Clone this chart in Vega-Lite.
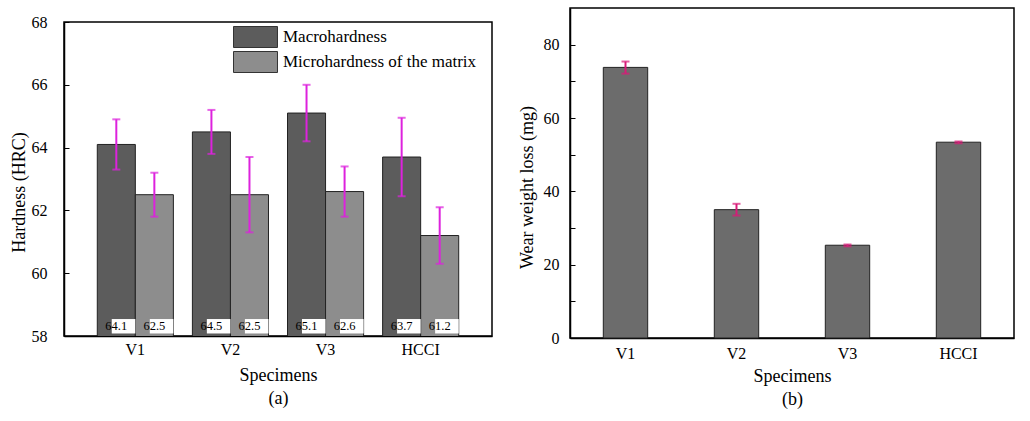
{
  "$schema": "https://vega.github.io/schema/vega-lite/v6.json",
  "padding": {"left": 9, "top": 7, "right": 4, "bottom": 0},
  "background": "white",
  "spacing": 24,
  "resolve": {"legend": {"color": "independent"}, "scale": {"color": "independent"}},
  "config": {
    "font": "Liberation Serif",
    "view": {"stroke": "black", "strokeWidth": 1.5},
    "axis": {
      "labelFont": "Liberation Serif", "titleFont": "Liberation Serif",
      "labelFontSize": 16, "titleFontSize": 18, "titleFontWeight": "normal",
      "labelColor": "black", "titleColor": "black",
      "domainColor": "black", "domainWidth": 1.5, "tickColor": "black", "grid": false
    },
    "legend": {
      "labelFont": "Liberation Serif", "labelFontSize": 17, "labelColor": "black", "labelLimit": 400
    }
  },
  "datasets": {
    "hard": [
      {"Specimen": "V1", "Type": "Macrohardness", "Hardness": 64.1, "Low": 63.3, "High": 64.9, "Label": "64.1"},
      {"Specimen": "V1", "Type": "Microhardness of the matrix", "Hardness": 62.5, "Low": 61.8, "High": 63.2, "Label": "62.5"},
      {"Specimen": "V2", "Type": "Macrohardness", "Hardness": 64.5, "Low": 63.8, "High": 65.2, "Label": "64.5"},
      {"Specimen": "V2", "Type": "Microhardness of the matrix", "Hardness": 62.5, "Low": 61.3, "High": 63.7, "Label": "62.5"},
      {"Specimen": "V3", "Type": "Macrohardness", "Hardness": 65.1, "Low": 64.2, "High": 66.0, "Label": "65.1"},
      {"Specimen": "V3", "Type": "Microhardness of the matrix", "Hardness": 62.6, "Low": 61.8, "High": 63.4, "Label": "62.6"},
      {"Specimen": "HCCI", "Type": "Macrohardness", "Hardness": 63.7, "Low": 62.45, "High": 64.95, "Label": "63.7"},
      {"Specimen": "HCCI", "Type": "Microhardness of the matrix", "Hardness": 61.2, "Low": 60.3, "High": 62.1, "Label": "61.2"}
    ],
    "wear": [
      {"Specimen": "V1", "Loss": 73.8, "Low": 72.1, "High": 75.4},
      {"Specimen": "V2", "Loss": 35.0, "Low": 33.4, "High": 36.6},
      {"Specimen": "V3", "Loss": 25.3, "Low": 25.0, "High": 25.5},
      {"Specimen": "HCCI", "Loss": 53.4, "Low": 53.1, "High": 53.6}
    ],
    "none": []
  },
  "hconcat": [
    {
      "spacing": 0,
      "vconcat": [
        {
          "width": 428,
          "height": 5,
          "view": {"stroke": null},
          "data": {"name": "none"},
          "mark": "point"
        },
        {
          "width": 428,
          "height": 314,
          "data": {"name": "hard"},
          "encoding": {
            "x": {
              "field": "Specimen", "type": "nominal", "sort": ["V1", "V2", "V3", "HCCI"],
              "scale": {"paddingInner": 0.2, "paddingOuter": 0.35},
              "axis": {"labelAngle": 0, "ticks": false, "labelPadding": 5, "title": ["Specimens", "(a)"], "titleLineHeight": 23, "titlePadding": 9}
            },
            "xOffset": {"field": "Type", "type": "nominal", "sort": ["Macrohardness", "Microhardness of the matrix"]}
          },
          "layer": [
            {
              "mark": {"type": "bar", "stroke": "#222222", "strokeWidth": 1, "clip": true},
              "encoding": {
                "y": {
                  "field": "Hardness", "type": "quantitative",
                  "scale": {"domain": [58, 68], "zero": false, "nice": false},
                  "axis": {
                    "values": [58, 59, 60, 61, 62, 63, 64, 65, 66, 67, 68],
                    "labelExpr": "datum.value % 2 == 0 ? datum.label : ''",
                    "tickSize": -5, "labelPadding": 22, "title": "Hardness (HRC)", "titlePadding": 3, "titleY": 170
                  }
                },
                "color": {
                  "field": "Type", "type": "nominal",
                  "scale": {"domain": ["Macrohardness", "Microhardness of the matrix"], "range": ["#5c5c5c", "#8d8d8d"]},
                  "legend": {
                    "title": null, "orient": "none", "legendX": 169, "legendY": 18, "padding": 0,
                    "symbolType": "M-1,-1H3.19V1H-1Z", "symbolSize": 441,
                    "symbolStrokeColor": "#333333", "symbolStrokeWidth": 1, "symbolOpacity": 1,
                    "rowPadding": -1, "labelOffset": 28
                  }
                }
              }
            },
            {
              "mark": {"type": "bar", "fill": "white", "width": {"band": 0.62}},
              "encoding": {"y": {"datum": 58.08}, "y2": {"datum": 58.54}}
            },
            {
              "mark": {"type": "text", "fontSize": 12.5, "color": "black", "baseline": "middle"},
              "encoding": {"y": {"datum": 58.31}, "text": {"field": "Label"}}
            },
            {
              "mark": {"type": "rule", "color": "#dd22dd", "strokeWidth": 2},
              "encoding": {"y": {"field": "Low", "type": "quantitative"}, "y2": {"field": "High"}}
            },
            {
              "mark": {"type": "tick", "color": "#dd22dd", "thickness": 2, "size": 8, "orient": "horizontal"},
              "encoding": {"y": {"field": "High", "type": "quantitative"}}
            },
            {
              "mark": {"type": "tick", "color": "#dd22dd", "thickness": 2, "size": 8, "orient": "horizontal"},
              "encoding": {"y": {"field": "Low", "type": "quantitative"}}
            }
          ]
        }
      ]
    },
    {
      "width": 444,
      "height": 330,
      "data": {"name": "wear"},
      "encoding": {
        "x": {
          "field": "Specimen", "type": "nominal", "sort": ["V1", "V2", "V3", "HCCI"],
          "scale": {"paddingInner": 0.6, "paddingOuter": 0.3},
          "axis": {"labelAngle": 0, "ticks": false, "labelPadding": 7, "title": ["Specimens", "(b)"], "titleLineHeight": 23, "titlePadding": 6}
        }
      },
      "layer": [
        {
          "mark": {"type": "bar", "fill": "#6c6c6c", "stroke": "#222222", "strokeWidth": 1},
          "encoding": {
            "y": {
              "field": "Loss", "type": "quantitative",
              "scale": {"domain": [0, 90], "nice": false},
              "axis": {
                "values": [0, 10, 20, 30, 40, 50, 60, 70, 80],
                "labelExpr": "datum.value % 20 == 0 ? datum.label : ''",
                "tickSize": -5, "labelPadding": 16, "title": "Wear weight loss (mg)", "titlePadding": 7, "titleY": 179
              }
            }
          }
        },
        {
          "mark": {"type": "rule", "color": "#d81b78", "strokeWidth": 2},
          "encoding": {"y": {"field": "Low", "type": "quantitative"}, "y2": {"field": "High"}}
        },
        {
          "mark": {"type": "tick", "color": "#d81b78", "thickness": 2, "size": 8, "orient": "horizontal"},
          "encoding": {"y": {"field": "High", "type": "quantitative"}}
        },
        {
          "mark": {"type": "tick", "color": "#d81b78", "thickness": 2, "size": 8, "orient": "horizontal"},
          "encoding": {"y": {"field": "Low", "type": "quantitative"}}
        }
      ]
    }
  ]
}
